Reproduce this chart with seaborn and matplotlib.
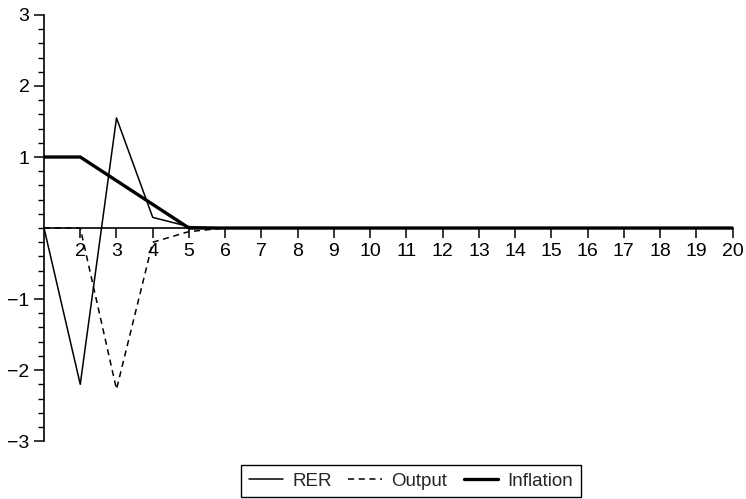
import numpy as np
import pandas as pd
import matplotlib
matplotlib.use('Agg')
import matplotlib.pyplot as plt
import seaborn as sns
from matplotlib.ticker import MultipleLocator

# values
periods = list(range(1, 21))
rer = [0, -2.2, 1.55, 0.15, 0.02] + [0] * 15
output = [0, 0, -2.27, -0.2, -0.05] + [0] * 15
inflation = [1, 1, 0.667, 0.333, 0] + [0] * 15

df = pd.DataFrame({'period': periods, 'RER': rer, 'Output': output, 'Inflation': inflation})

sns.set_style('ticks')
plt.rcParams['font.family'] = ['Liberation Sans', 'DejaVu Sans']

fig = plt.figure(figsize=(7.46, 4.99), dpi=100)
ax = fig.add_axes([0.059, 0.116, 0.923, 0.854])

sns.lineplot(data=df, x='period', y='RER', ax=ax, color='black', lw=1.1, label='RER')
sns.lineplot(data=df, x='period', y='Output', ax=ax, color='black', lw=1.1, ls=(0, (4, 3)), label='Output')
sns.lineplot(data=df, x='period', y='Inflation', ax=ax, color='black', lw=2.4, label='Inflation')

ax.set_xlim(1, 20)
ax.set_ylim(-3, 3)
ax.set_xlabel('')
ax.set_ylabel('')

ax.spines['right'].set_visible(False)
ax.spines['top'].set_visible(False)
ax.spines['left'].set_position(('data', 1))
ax.spines['bottom'].set_position(('data', 0))
for s in ['left', 'bottom']:
    ax.spines[s].set_color('black')
    ax.spines[s].set_linewidth(1.2)

ax.set_xticks(range(2, 21))
ax.set_yticks([-3, -2, -1, 1, 2, 3])
ax.set_yticklabels(['\u22123', '\u22122', '\u22121', '1', '2', '3'])
ax.yaxis.set_minor_locator(MultipleLocator(0.2))
ax.tick_params(axis='both', which='major', direction='out', length=7, width=1.1,
               color='black', labelsize=14, labelcolor='black')
ax.tick_params(axis='y', which='minor', direction='out', length=4, width=1.0, color='black')
ax.tick_params(axis='x', pad=4)

ax.legend(loc='center', bbox_to_anchor=(0.551, 0.036), bbox_transform=fig.transFigure,
          ncol=3, frameon=True, fancybox=False, edgecolor='black', framealpha=1,
          fontsize=13.5, handlelength=1.8, columnspacing=0.9, handletextpad=0.5,
          borderpad=0.4)
ax.get_legend().get_frame().set_linewidth(1.0)

fig.savefig('out.png', dpi=100)
